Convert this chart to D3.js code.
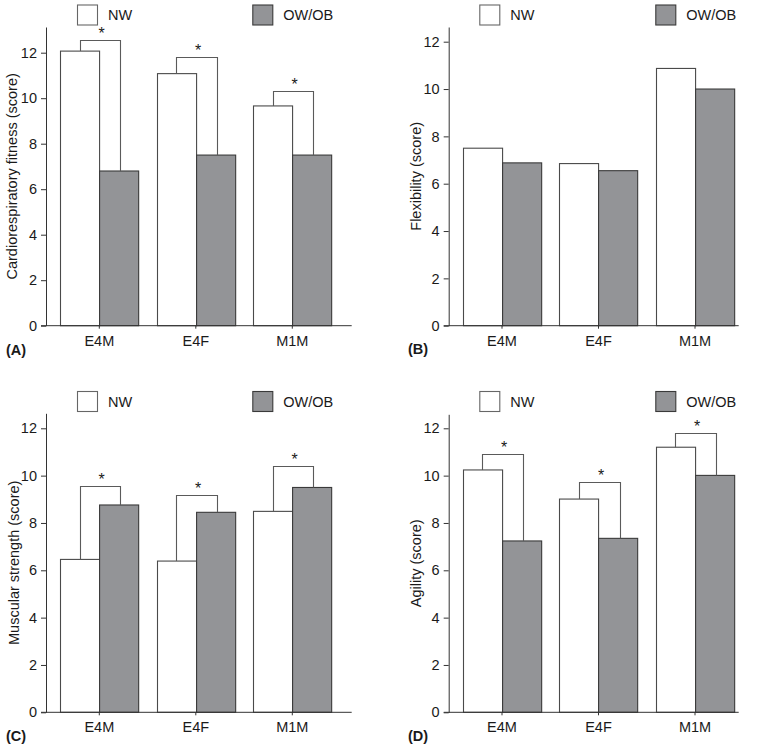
<!DOCTYPE html>
<html><head><meta charset="utf-8">
<script src="https://cdn.jsdelivr.net/npm/d3@7/dist/d3.min.js"></script>
<style>body{margin:0;background:#fff}svg{display:block;font-family:"Liberation Sans",Arial,sans-serif}</style>
</head><body><svg id="c" width="764" height="750"></svg>
<script>
const categories = ["E4M", "E4F", "M1M"];
const seriesNames = ["NW", "OW/OB"];
const yTicks = [0, 2, 4, 6, 8, 10, 12];
const panelLetters = ["(A)", "(B)", "(C)", "(D)"];
const yTitles = ["Cardiorespiratory fitness (score)", "Flexibility (score)", "Muscular strength (score)", "Agility (score)"];

const cardioNW = [12.07, 11.08, 9.66];
const cardioOW = [6.8, 7.5, 7.5];
const cardioSig = [12.57, 11.8, 10.33];

const flexNW = [7.5, 6.85, 10.87];
const flexOW = [6.88, 6.55, 10.0];
const flexSig = [null, null, null];

const strengthNW = [6.46, 6.39, 8.49];
const strengthOW = [8.76, 8.45, 9.5];
const strengthSig = [9.57, 9.17, 10.42];

const agilityNW = [10.24, 9.01, 11.2];
const agilityOW = [7.24, 7.35, 10.01];
const agilitySig = [10.91, 9.72, 11.79];

const panels = [
  {nw: cardioNW, ow: cardioOW, sig: cardioSig, x0: 46, base: 325.7, y12: 52.7, top: 27, right: 351.7, legY: 4.5, legX: 77, legX2: 252.3, tx: 6, letterY: 355, titleX: 12, xlabY: 346},
  {nw: flexNW, ow: flexOW, sig: flexSig, x0: 448.7, base: 325.7, y12: 41.7, top: 27, right: 738.7, legY: 4.5, legX: 479.3, legX2: 655.3, tx: 408, letterY: 354, titleX: 416, xlabY: 346},
  {nw: strengthNW, ow: strengthOW, sig: strengthSig, x0: 46, base: 712.3, y12: 428.3, top: 413.3, right: 351.7, legY: 391, legX: 77, legX2: 252.3, tx: 6, letterY: 741, titleX: 13.5, xlabY: 732},
  {nw: agilityNW, ow: agilityOW, sig: agilitySig, x0: 448.7, base: 712.3, y12: 428.3, top: 414.3, right: 738.7, legY: 391, legX: 479.3, legX2: 655.3, tx: 408, letterY: 741, titleX: 416, xlabY: 732}
];

const NWfill = "#ffffff", NWstroke = "#4a4a4a", OWfill = "#939497", OWstroke = "#3a3a3a", SIGstroke = "#5a5a5a";
const TXT = "#1a1a1a";
const svg = d3.select("#c");
const FS = 14.5;

panels.forEach((p, i) => {
  const g = svg.append("g");
  const ppu = (p.base - p.y12) / 12;
  const yMax = (p.base - p.top) / ppu;
  const y = d3.scaleLinear().domain([0, yMax]).range([p.base, p.top]);
  const x = d3.scaleBand().domain(categories)
    .range([p.x0 + 5.05, p.x0 + 294.55]).paddingInner(0.19).paddingOuter(0.095);
  const bw = x.bandwidth() / 2;

  categories.forEach((c, j) => {
    const xs = x(c);
    g.append("rect").attr("x", Math.round(xs) + 0.5).attr("y", y(p.nw[j]))
      .attr("width", bw).attr("height", y(0) - y(p.nw[j]))
      .attr("fill", NWfill).attr("stroke", NWstroke).attr("stroke-width", 1.1);
    g.append("rect").attr("x", Math.round(xs) + 0.5 + bw).attr("y", y(p.ow[j]))
      .attr("width", bw).attr("height", y(0) - y(p.ow[j]))
      .attr("fill", OWfill).attr("stroke", OWstroke).attr("stroke-width", 1.1);
    if (p.sig[j] != null) {
      const lx = Math.round(xs + bw / 2) + 0.5;
      const rx = Math.round(xs + bw * 1.5 + 1.5) + 0.5;
      const ty = Math.round(y(p.sig[j])) + 0.5;
      g.append("path")
        .attr("d", `M${lx},${y(p.nw[j])}V${ty}H${rx}V${y(p.ow[j])}`)
        .attr("fill", "none").attr("stroke", SIGstroke).attr("stroke-width", 1.1);
      g.append("text").attr("x", (lx + rx) / 2 + 1).attr("y", ty - 2)
        .attr("text-anchor", "middle").attr("font-size", 16).attr("fill", TXT).text("*");
    }
  });

  const ya = d3.axisLeft(y).tickValues(yTicks).tickSize(5).tickSizeOuter(0).tickPadding(4);
  const yg = g.append("g").attr("transform", `translate(${p.x0},0)`).call(ya);
  yg.selectAll("text").attr("font-size", FS).attr("fill", TXT).style("font-family", "Liberation Sans, Arial, sans-serif");
  yg.selectAll("line,path").attr("stroke", "#333");

  const xa = d3.axisBottom(x).tickSize(3).tickSizeOuter(0).tickPadding(4);
  const xg = g.append("g").attr("transform", `translate(0,${p.base})`).call(xa);
  xg.select(".domain").remove();
  xg.selectAll("line").attr("stroke", "#333");
  xg.selectAll("text").attr("font-size", FS).attr("fill", TXT).attr("dy", null)
    .attr("y", p.xlabY - p.base).style("font-family", "Liberation Sans, Arial, sans-serif");
  g.append("line").attr("x1", p.x0 - 5).attr("x2", p.right).attr("y1", p.base).attr("y2", p.base)
    .attr("stroke", "#333");

  g.append("text").attr("transform", `translate(${p.titleX},${(p.top + p.base) / 2}) rotate(-90)`)
    .attr("text-anchor", "middle").attr("dy", "0.35em").attr("font-size", FS).attr("fill", TXT)
    .text(yTitles[i]);

  g.append("text").attr("x", p.tx).attr("y", p.letterY).attr("font-size", FS)
    .attr("font-weight", "bold").attr("fill", TXT).text(panelLetters[i]);

  g.append("rect").attr("x", p.legX + 0.5).attr("y", p.legY + 0.5).attr("width", 20).attr("height", 20)
    .attr("fill", NWfill).attr("stroke", "#666").attr("stroke-width", 1.1);
  g.append("text").attr("x", p.legX + 31).attr("y", p.legY + 15.5).attr("font-size", FS).attr("fill", TXT).text(seriesNames[0]);
  g.append("rect").attr("x", p.legX2 + 0.5).attr("y", p.legY + 0.5).attr("width", 20).attr("height", 20)
    .attr("fill", OWfill).attr("stroke", OWstroke).attr("stroke-width", 1.1);
  g.append("text").attr("x", p.legX2 + 31).attr("y", p.legY + 15.5).attr("font-size", FS).attr("fill", TXT).text(seriesNames[1]);
});
</script></body></html>
